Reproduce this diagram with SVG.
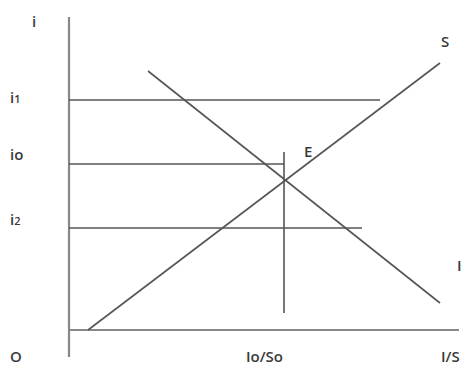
<svg xmlns="http://www.w3.org/2000/svg" width="466" height="365" viewBox="0 0 466 365">
<style>
.ln{stroke:#555;stroke-width:1.6;fill:none}
.ax{stroke:#888;stroke-width:2.2;fill:none}
text{font-family:"Open Sans","DejaVu Sans",sans-serif;font-size:15px;fill:#3a3a3a;font-weight:600}
.sub{font-size:11px}
</style>
<rect width="466" height="365" fill="#fff"/>
<g id="connectors">
<line class="ax" x1="69" y1="17" x2="69" y2="357"/>
<line class="ax" x1="69" y1="330" x2="459" y2="330"/>
<line class="ln" x1="69" y1="100" x2="380" y2="100"/>
<line class="ln" x1="69" y1="164" x2="284" y2="164"/>
<line class="ln" x1="69" y1="228" x2="362" y2="228"/>
<line class="ln" x1="284" y1="152" x2="284" y2="313"/>
<line class="ln" x1="88" y1="330" x2="440" y2="63"/>
<line class="ln" x1="148" y1="71" x2="440" y2="303"/>
</g>
<g id="labels">
<text x="32" y="27">i</text>
<text x="10" y="103">i<tspan class="sub">1</tspan></text>
<text x="10" y="160">io</text>
<text x="10" y="225">i<tspan class="sub">2</tspan></text>
<text x="10" y="362">O</text>
<text x="246" y="362">Io/So</text>
<text x="441" y="362">I/S</text>
<text x="441" y="47">S</text>
<text x="457" y="271">I</text>
<text x="304" y="157">E</text>
</g>
</svg>
